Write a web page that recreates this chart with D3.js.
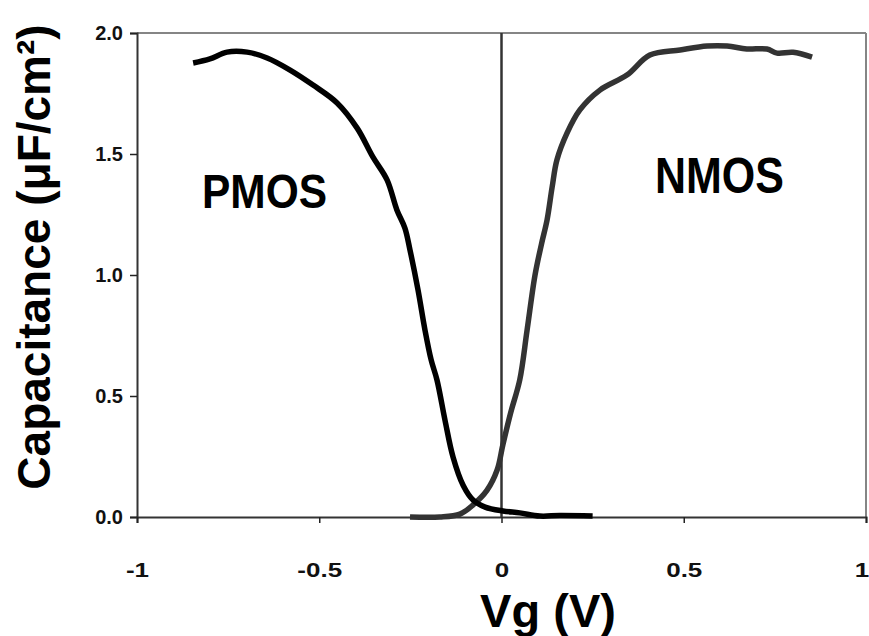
<!DOCTYPE html>
<html>
<head>
<meta charset="utf-8">
<script src="https://cdn.jsdelivr.net/npm/d3@7"></script>
<style>
  body { margin: 0; background: #fff; }
  svg { font-family: "Liberation Sans", Arial, sans-serif; }
</style>
</head>
<body>
<div id="chart"></div>
<script>
// C-V curves (Vg in V, C in uF/cm2)
const pmosVg = [-0.846, -0.80, -0.753, -0.698, -0.643, -0.58, -0.517, -0.451, -0.396, -0.353, -0.314, -0.287, -0.265, -0.251, -0.229, -0.21, -0.193, -0.177, -0.155, -0.133, -0.105, -0.078, -0.045, 0.004, 0.05, 0.105, 0.16, 0.25];
const pmosC  = [1.876, 1.893, 1.921, 1.921, 1.897, 1.847, 1.785, 1.711, 1.607, 1.488, 1.393, 1.269, 1.194, 1.103, 0.938, 0.773, 0.649, 0.566, 0.40, 0.248, 0.13, 0.07, 0.041, 0.025, 0.017, 0.004, 0.006, 0.004];

const nmosVg = [-0.251, -0.169, -0.114, -0.078, -0.04, -0.012, 0.004, 0.025, 0.05, 0.07, 0.092, 0.11, 0.125, 0.139, 0.152, 0.18, 0.215, 0.27, 0.344, 0.407, 0.49, 0.564, 0.619, 0.673, 0.728, 0.756, 0.80, 0.852];
const nmosC  = [0.0, 0.0, 0.012, 0.05, 0.11, 0.194, 0.3, 0.43, 0.566, 0.77, 1.0, 1.13, 1.227, 1.364, 1.475, 1.587, 1.682, 1.764, 1.826, 1.909, 1.93, 1.946, 1.946, 1.934, 1.934, 1.917, 1.92, 1.90];

const xTicks = [-1, -0.5, 0, 0.5, 1];
const yTicks = [0, 0.5, 1.0, 1.5, 2.0];

const W = 869, H = 636;
const plotLeft = 137, plotRight = 866, plotTop = 33, plotBottom = 517;

const svg = d3.select("#chart").append("svg")
    .attr("width", W)
    .attr("height", H);

const x = d3.scaleLinear().domain([-1, 1]).range([plotLeft, plotRight]);
const y = d3.scaleLinear().domain([0, 2]).range([plotBottom, plotTop]);

// frame: grey top / right
svg.append("line")
    .attr("x1", plotLeft).attr("x2", plotRight).attr("y1", plotTop).attr("y2", plotTop)
    .attr("stroke", "#858585").attr("stroke-width", 2);
svg.append("line")
    .attr("x1", plotRight).attr("x2", plotRight).attr("y1", plotTop).attr("y2", plotBottom)
    .attr("stroke", "#858585").attr("stroke-width", 2);

// y axis
const yAxis = d3.axisLeft(y).tickValues(yTicks).tickFormat(d3.format(".1f")).tickSize(7).tickPadding(7);
const gy = svg.append("g").attr("transform", `translate(${plotLeft},0)`).call(yAxis);
gy.select(".domain").attr("stroke", "#333").attr("stroke-width", 2);
gy.selectAll(".tick line").attr("stroke", "#222").attr("stroke-width", 1.5);
gy.selectAll(".tick text")
    .attr("font-size", 20).attr("font-weight", "bold").attr("fill", "#111");

// x axis (labels in the picture are drawn a little wide)
const xAxis = d3.axisBottom(x).tickValues(xTicks).tickFormat(d => String(d)).tickSize(6).tickPadding(40);
const gx = svg.append("g").attr("transform", `translate(0,${plotBottom})`).call(xAxis);
gx.select(".domain").attr("stroke", "#333").attr("stroke-width", 2);
gx.selectAll(".tick line").attr("stroke", "#222").attr("stroke-width", 1.5);
gx.selectAll(".tick text")
    .attr("font-size", 20).attr("font-weight", "bold").attr("fill", "#111")
    .attr("transform", "scale(1.3,1)");
// last label would fall off the edge
gx.selectAll(".tick text").filter(d => d === 1)
    .attr("text-anchor", "end").attr("x", 2);

// vertical line at Vg = 0
svg.append("line")
    .attr("x1", x(0)).attr("x2", x(0)).attr("y1", plotTop).attr("y2", plotBottom)
    .attr("stroke", "#333").attr("stroke-width", 2.5);

const line = d3.line()
    .x(d => x(d[0]))
    .y(d => y(d[1]))
    .curve(d3.curveCatmullRom.alpha(0.5));

svg.append("path")
    .datum(nmosVg.map((v, i) => [v, nmosC[i]]))
    .attr("fill", "none")
    .attr("stroke", "#333")
    .attr("stroke-width", 5.5)
    .attr("d", line);

svg.append("path")
    .datum(pmosVg.map((v, i) => [v, pmosC[i]]))
    .attr("fill", "none")
    .attr("stroke", "#000")
    .attr("stroke-width", 5.5)
    .attr("d", line);

// labels
svg.append("text")
    .attr("transform", "translate(202,208) scale(1,1.15)")
    .attr("font-size", 42.5).attr("font-weight", "bold")
    .text("PMOS");
svg.append("text")
    .attr("transform", "translate(655,193) scale(1,1.15)")
    .attr("font-size", 43).attr("font-weight", "bold")
    .text("NMOS");

// axis titles
svg.append("text")
    .attr("x", 548).attr("y", 627)
    .attr("text-anchor", "middle")
    .attr("font-size", 47).attr("font-weight", "bold")
    .text("Vg (V)");

svg.append("text")
    .attr("transform", `translate(50,257) rotate(-90)`)
    .attr("text-anchor", "middle")
    .attr("font-size", 46).attr("font-weight", "bold")
    .text("Capacitance (μF/cm²)");
</script>
</body>
</html>
